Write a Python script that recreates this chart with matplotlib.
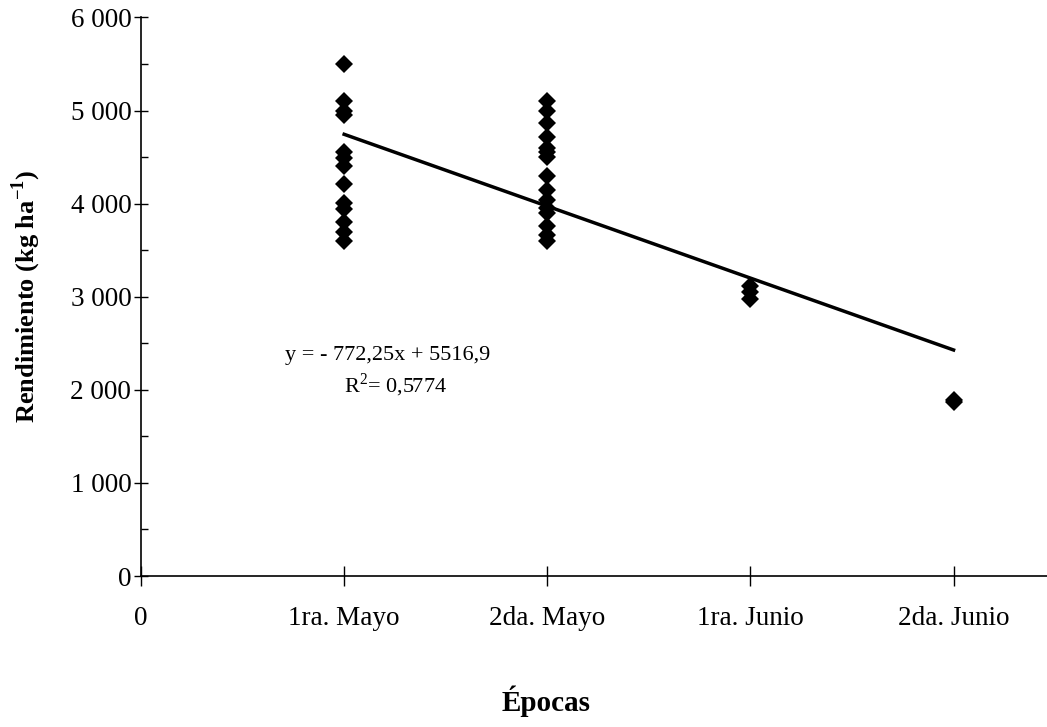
import numpy as np
import matplotlib.pyplot as plt
from matplotlib.ticker import MultipleLocator, FuncFormatter

plt.rcParams['font.family'] = ['Liberation Serif', 'DejaVu Serif']
plt.rcParams['mathtext.fontset'] = 'custom'
plt.rcParams['mathtext.rm'] = 'Liberation Serif'
plt.rcParams['mathtext.bf'] = 'Liberation Serif:bold'

# data
epocas = ['0', '1ra. Mayo', '2da. Mayo', '1ra. Junio', '2da. Junio']
mayo_1 = [5500, 5100, 5000, 4950, 4560, 4490, 4400, 4210, 4010, 3940, 3800, 3690, 3600]
mayo_2 = [5100, 4990, 4870, 4720, 4600, 4560, 4500, 4300, 4150, 4040, 3950, 3900, 3760, 3660, 3600]
junio_1 = [3120, 3050, 2980]
junio_2 = [1890, 1870]
slope = -772.25
intercept = 5516.9
r2 = 0.5774

groups = [mayo_1, mayo_2, junio_1, junio_2]

fig = plt.figure(figsize=(10.47, 7.27), dpi=100)
ax = fig.add_axes([0.1347, 0.2077, 0.8653, 0.7683])

for i, vals in enumerate(groups):
    xs = np.full(len(vals), i + 1)
    ax.plot(xs, vals, linestyle='none', marker='D', markersize=9,
            color='black', markeredgewidth=0)

xl = np.array([1, 4])
ax.plot(xl, slope * xl + intercept, color='black', linewidth=2.5)

ax.text(0.71, 2374, 'y = - 772,25x + 5516,9', fontsize=16, ha='left', va='center')
ax.text(1.0, 2052, r'R$^\mathrm{2}$= ' + str(r2).replace('.', ','), fontsize=16,
        ha='left', va='center')

ax.set_xlim(0, 4.46)
ax.set_ylim(0, 6000)
ax.spines['top'].set_visible(False)
ax.spines['right'].set_visible(False)
ax.spines['left'].set_linewidth(1.2)
ax.spines['bottom'].set_linewidth(1.2)

ax.set_xticks(range(len(epocas)))
ax.set_xticklabels(epocas)
ax.tick_params(axis='x', direction='inout', length=15, width=1, pad=14, labelsize=19.5)

ax.yaxis.set_major_locator(MultipleLocator(1000))
ax.yaxis.set_minor_locator(MultipleLocator(500))
ax.yaxis.set_major_formatter(FuncFormatter(lambda v, p: f'{int(v):,}'.replace(',', ' ')))
ax.tick_params(axis='y', which='major', direction='inout', length=10, width=1, pad=2, labelsize=19.5)
ax.tick_params(axis='y', which='minor', direction='in', length=5, width=1)

ax.set_ylabel(r'Rendimiento (kg ha$^{\mathbf{-1}}$)', fontsize=19, fontweight='bold', labelpad=20)
fig.text(0.522, 0.035, 'Épocas', fontsize=21, fontweight='bold', ha='center', va='center')

fig.savefig('out.png', dpi=100)
